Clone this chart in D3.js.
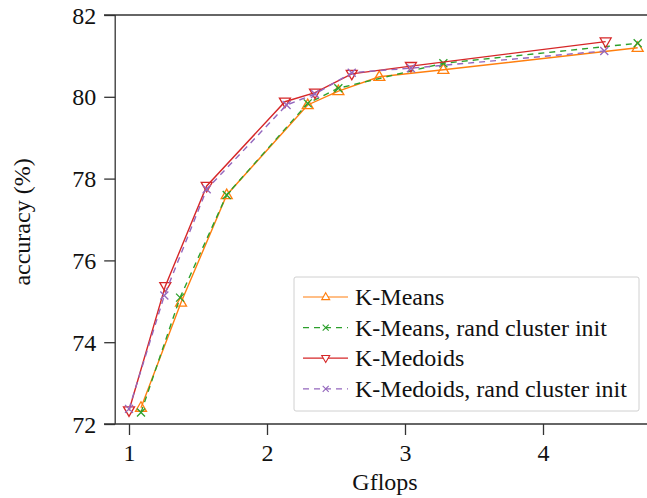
<!DOCTYPE html>
<html><head><meta charset="utf-8">
<script src="https://cdn.jsdelivr.net/npm/d3@7"></script>
<style>body{margin:0;background:#fff}svg{display:block}svg text{font-family:"Liberation Serif","Times New Roman",Times,"DejaVu Serif",serif !important;fill:#111}</style>
</head><body><svg id="c" width="647" height="498"></svg>
<script>
const xTicks = [1, 2, 3, 4];
const yTicks = [72, 74, 76, 78, 80, 82];
const seriesNames = ["K-Means", "K-Means, rand cluster init", "K-Medoids", "K-Medoids, rand cluster init"];
const kmeansX = [1.087, 1.377, 1.708, 2.295, 2.517, 2.814, 3.278, 4.686];
const kmeansY = [72.40, 74.97, 77.60, 79.80, 80.14, 80.49, 80.66, 81.20];
const kmeansRandX = [1.087, 1.370, 1.708, 2.295, 2.517, 3.278, 4.686];
const kmeansRandY = [72.28, 75.09, 77.60, 79.84, 80.21, 80.82, 81.31];
const kmedoidsX = [1.0, 1.263, 1.563, 2.130, 2.348, 2.614, 3.043, 4.454];
const kmedoidsY = [72.33, 75.37, 77.82, 79.88, 80.10, 80.56, 80.75, 81.35];
const kmedoidsRandX = [1.0, 1.256, 1.563, 2.142, 2.348, 2.614, 3.043, 4.444];
const kmedoidsRandY = [72.37, 75.14, 77.74, 79.80, 80.07, 80.59, 80.70, 81.12];

const series = [
  {name: seriesNames[0], xs: kmeansX, ys: kmeansY, color: "#ff7f0e", dash: null, marker: "up"},
  {name: seriesNames[1], xs: kmeansRandX, ys: kmeansRandY, color: "#2ca02c", dash: "6,5", marker: "x"},
  {name: seriesNames[2], xs: kmedoidsX, ys: kmedoidsY, color: "#d62728", dash: null, marker: "down"},
  {name: seriesNames[3], xs: kmedoidsRandX, ys: kmedoidsRandY, color: "#9467bd", dash: "6,5", marker: "x"}
];

const FONT = '"Liberation Serif","Times New Roman",Times,"DejaVu Serif",serif';
const svg = d3.select("#c");
const x = d3.scaleLinear().domain([0.9, 4.8]).range([115.2, 653.4]);
const y = d3.scaleLinear().domain([72, 82]).range([424, 15]);

function markerPath(type, s) {
  const h = s * 0.866;
  if (type === "up") return `M0,${-h*0.62}L${s/2},${h*0.38}L${-s/2},${h*0.38}Z`;
  if (type === "down") return `M0,${h*0.62}L${s/2},${-h*0.38}L${-s/2},${-h*0.38}Z`;
  const r = s / 2;
  return `M${-r},${-r}L${r},${r}M${-r},${r}L${r},${-r}`;
}

const plot = svg.append("g");
series.forEach(s => {
  const pts = s.xs.map((v, i) => [v, s.ys[i]]);
  plot.append("path")
    .attr("d", d3.line().x(d => x(d[0])).y(d => y(d[1]))(pts))
    .attr("fill", "none").attr("stroke", s.color).attr("stroke-width", 1.4)
    .attr("stroke-dasharray", s.dash);
  plot.selectAll(null).data(pts).enter().append("path")
    .attr("transform", d => `translate(${x(d[0])},${y(d[1])})`)
    .attr("d", markerPath(s.marker, s.marker === "x" ? 8 : 11))
    .attr("fill", "none").attr("stroke", s.color).attr("stroke-width", 1.3);
});

// axes
const axCol = "#333";
const xAxis = svg.append("g").attr("transform", "translate(0,424)")
  .call(d3.axisBottom(x).tickValues(xTicks).tickFormat(d3.format("d")).tickSize(11).tickSizeOuter(0));
const yAxis = svg.append("g").attr("transform", "translate(115.2,0)")
  .call(d3.axisLeft(y).tickValues(yTicks).tickSize(11).tickSizeOuter(0));
[xAxis, yAxis].forEach(g => {
  g.attr("font-family", FONT).attr("font-size", 24);
  g.select(".domain").remove();
  g.selectAll(".tick line").attr("stroke", axCol).attr("stroke-width", 1.3);
  g.selectAll("text").attr("font-size", 24).attr("fill", "#111");
});
xAxis.selectAll("text").attr("y", 0).attr("dy", 0).attr("transform", "translate(0,37)");
yAxis.selectAll("text").attr("x", -19).attr("dy", "0.34em");
// spines
svg.append("line").attr("x1", 104).attr("x2", 647).attr("y1", 424).attr("y2", 424).attr("stroke", axCol).attr("stroke-width", 1.3);
svg.append("line").attr("x1", 104).attr("x2", 647).attr("y1", 15).attr("y2", 15).attr("stroke", axCol).attr("stroke-width", 1.3);
svg.append("line").attr("x1", 115.2).attr("x2", 115.2).attr("y1", 15).attr("y2", 424).attr("stroke", axCol).attr("stroke-width", 1.3);

svg.append("text").attr("x", 385).attr("y", 490).attr("text-anchor", "middle").attr("font-size", 24).attr("font-family", FONT).text("Gflops");
svg.append("text").attr("transform", "translate(30,222) rotate(-90)").attr("text-anchor", "middle").attr("font-size", 24).attr("font-family", FONT).text("accuracy (%)");

// legend
const lg = svg.append("g");
lg.append("rect").attr("x", 294).attr("y", 277).attr("width", 345).attr("height", 134).attr("rx", 2)
  .attr("fill", "#fff").attr("fill-opacity", 0.9).attr("stroke", "#d0d0d0").attr("stroke-width", 1);
series.forEach((s, i) => {
  const cy = 297 + i * 30.6;
  lg.append("line").attr("x1", 303).attr("x2", 348).attr("y1", cy).attr("y2", cy)
    .attr("stroke", s.color).attr("stroke-width", 1.2).attr("stroke-dasharray", s.dash);
  lg.append("path").attr("transform", `translate(325.7,${cy})`).attr("d", markerPath(s.marker, s.marker === "x" ? 6 : 8))
    .attr("fill", "#fff").attr("stroke", s.color).attr("stroke-width", 1.1);
  lg.append("text").attr("x", 355).attr("y", cy + 8).attr("font-size", 24).attr("font-family", FONT).text(s.name);
});
</script></body></html>
